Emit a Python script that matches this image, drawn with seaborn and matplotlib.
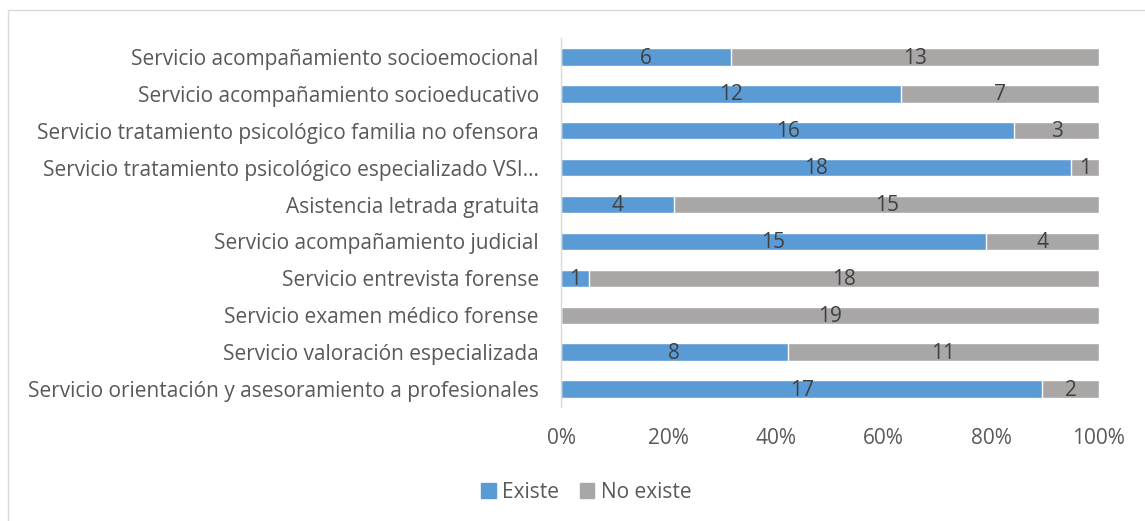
import matplotlib
matplotlib.use("Agg")
import matplotlib.pyplot as plt
import matplotlib.patches as mpatches
import pandas as pd
import seaborn as sns
from matplotlib.ticker import PercentFormatter

categorias = [
    "Servicio acompañamiento socioemocional",
    "Servicio acompañamiento socioeducativo",
    "Servicio tratamiento psicológico familia no ofensora",
    "Servicio tratamiento psicológico especializado VSI…",
    "Asistencia letrada gratuita",
    "Servicio acompañamiento judicial",
    "Servicio entrevista forense",
    "Servicio examen médico forense",
    "Servicio valoración especializada",
    "Servicio orientación y asesoramiento a profesionales",
]
existe = [6, 12, 16, 18, 4, 15, 1, 0, 8, 17]
no_existe = [13, 7, 3, 1, 15, 4, 18, 19, 11, 2]

AZUL = "#5B9BD5"
GRIS = "#A9A6A6"
TEXTO = "#595959"
FS = 15

df = pd.DataFrame({"cat": categorias, "existe": existe, "no": no_existe})
df["total"] = df["existe"] + df["no"]
df["p_existe"] = df["existe"] / df["total"]
df["p_total"] = df["total"] / df["total"]

sns.set_style("white")
plt.rcParams["font.family"] = ["Open Sans", "DejaVu Sans"]

fig = plt.figure(figsize=(11.45, 5.21), dpi=100)
ax = fig.add_axes([561 / 1145, 1 - 407.5 / 521, (1099 - 561) / 1145, 369 / 521])

sns.barplot(data=df, y="cat", x="p_total", color=GRIS, orient="h",
            width=0.47, saturation=1, ax=ax)
sns.barplot(data=df, y="cat", x="p_existe", color=AZUL, orient="h",
            width=0.47, saturation=1, ax=ax)

# etiquetas de datos centradas en cada segmento
for i, row in df.iterrows():
    if row["existe"] > 0:
        ax.text(row["p_existe"] / 2, i + 0.03, str(row["existe"]), ha="center",
                va="center", fontsize=FS, color="#404040")
    if row["no"] > 0:
        ax.text(row["p_existe"] + (1 - row["p_existe"]) / 2, i + 0.03, str(row["no"]),
                ha="center", va="center", fontsize=FS, color="#404040")

ax.set_xlim(0, 1)
ax.set_ylim(len(df) - 0.5, -0.5)
ax.xaxis.set_major_formatter(PercentFormatter(1.0, decimals=0))
ax.set_xticks([0, 0.2, 0.4, 0.6, 0.8, 1.0])
ax.set_xlabel("")
ax.set_ylabel("")
ax.tick_params(axis="x", length=0, pad=15, labelsize=FS, labelcolor=TEXTO)
ax.tick_params(axis="y", length=0, pad=16, labelsize=FS, labelcolor=TEXTO)
for s in ["top", "right", "bottom"]:
    ax.spines[s].set_visible(False)
ax.spines["left"].set_color("#D9D9D9")
ax.spines["left"].set_linewidth(1.0)

handles = [mpatches.Patch(color=AZUL, label="Existe"),
           mpatches.Patch(color=GRIS, label="No existe")]
leg = fig.legend(handles=handles, loc="center", bbox_to_anchor=(0.512, 1 - 492 / 521),
                 ncol=2, frameon=False, fontsize=FS, handlelength=0.7,
                 handleheight=0.7, handletextpad=0.3, columnspacing=1.0)
for t in leg.get_texts():
    t.set_color(TEXTO)

# marco del gráfico
fig.patches.append(mpatches.Rectangle((8 / 1145, -0.1), 1.2, 1 - 10 / 521 + 0.1,
                                      transform=fig.transFigure, fill=False,
                                      edgecolor="#D9D9D9", linewidth=1.0))

fig.savefig("out.png", dpi=100)
